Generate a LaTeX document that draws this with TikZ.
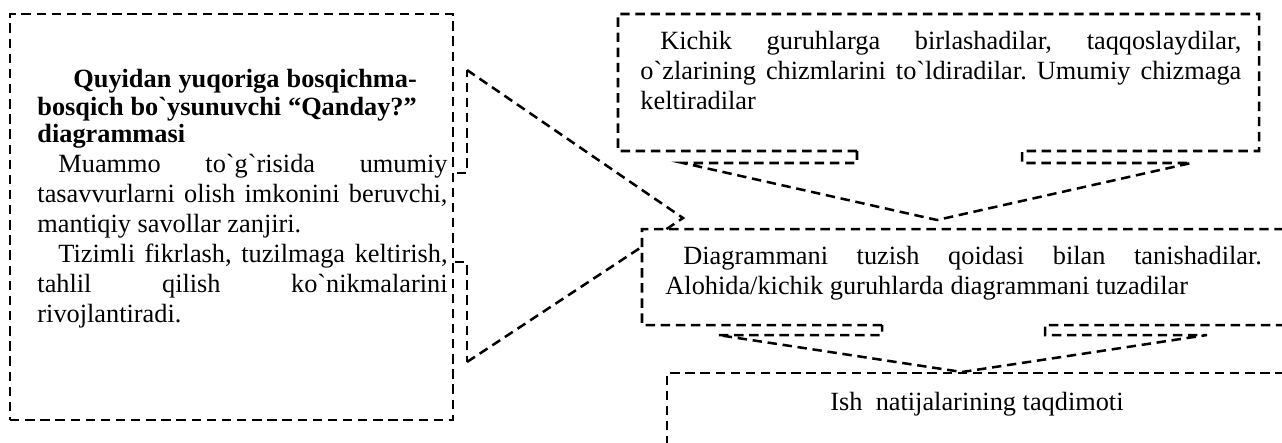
\documentclass[tikz,border=0pt]{standalone}
\usepackage{fontspec}
\setmainfont{Liberation Serif}[Ligatures=TeXOff]
\hyphenpenalty=10000
\tolerance=10000
\frenchspacing

\begin{document}
\begin{tikzpicture}[x=0.456pt, y=-0.456pt,
            chiziq/.style={line width=1.15pt, dash pattern=on 4.3pt off 2.6pt},
            quti/.style={draw, chiziq, inner sep=0pt},
            matn/.style={inner sep=0pt, anchor=north west, align=justify,
                         font=\fontsize{12}{13.7}\selectfont},
            ]
            \useasboundingbox (0,0) rectangle (1282,442);
            \clip (0,0) rectangle (1282,442);

            % chap tomondagi quti
            \node[quti, minimum width=202pt, minimum height=185.1pt] (chap) at (231.5,217) {};
            \node[matn, text width=187pt] (chapmatn) at (37,69) {%
                {\bfseries\fontsize{12}{12.5}\selectfont\rightskip=14pt\relax
                \hspace*{16.4pt}Quyidan yuqoriga bosqichma-\linebreak
                bosqich bo`ysunuvchi “Qanday?”\linebreak diagrammasi\par}
                \hspace*{9.6pt}Muammo to`g`risida umumiy\linebreak
                tasavvurlarni olish imkonini beruvchi,\linebreak mantiqiy savollar zanjiri.\par
                \hspace*{9.6pt}Tizimli fikrlash, tuzilmaga keltirish,\linebreak
                tahlil qilish ko`nikmalarini\linebreak rivojlantiradi.};
            \draw[chiziq] (457,173) -- (467,173) -- (467,70) coordinate (uch1);
            \draw[chiziq] (455,262) -- (467,262) -- (467,362) coordinate (uch2);

            % yuqoridagi quti
            \draw[chiziq] (857,151) -- (618,151) -- (618,14) -- (1259,14) -- (1259,151) -- (1022,151)
                -- (1022,163) -- (1191,163) -- (937,220) coordinate (yuqoriuch) -- (683,163) -- (857,163) -- cycle;
            \node[matn, text width=274pt] (yuqorimatn) at (640,31) {%
                \hspace*{9.1pt}Kichik guruhlarga birlashadilar, taqqoslaydilar,\linebreak
                o`zlarining chizmlarini to`ldiradilar. Umumiy chizmaga\linebreak keltiradilar};

            % o`rtadagi quti
            \draw[chiziq] (882,325) -- (642,325) -- (642,229) -- (1300,229) -- (1300,325) -- (1045,325)
                -- (1045,335) -- (1207,335) -- (962,372) coordinate (ortauch) -- (718,335) -- (882,335) -- cycle;
            \node[matn, text width=272pt] (ortamatn) at (665,246) {%
                \hspace*{8.2pt}Diagrammani tuzish qoidasi bilan tanishadilar.\linebreak
                Alohida/kichik guruhlarda diagrammani tuzadilar};

            % pastki quti
            \draw[chiziq] (1300,373) -- (667,373) -- (667,460);
            \node[matn, anchor=base west] (pastmatn) at (830,410) {Ish\ \ natijalarining taqdimoti};

            % chiziqlar
            \coordinate (tirsak) at (683,218);
            \coordinate (ilgak) at (665,230);
            \coordinate (ortachap) at (640,248);
            \draw[chiziq] (uch1) -- (tirsak) -- (ilgak);
            \draw[chiziq] (uch2) -- (ortachap);
\end{tikzpicture}
\end{document}
